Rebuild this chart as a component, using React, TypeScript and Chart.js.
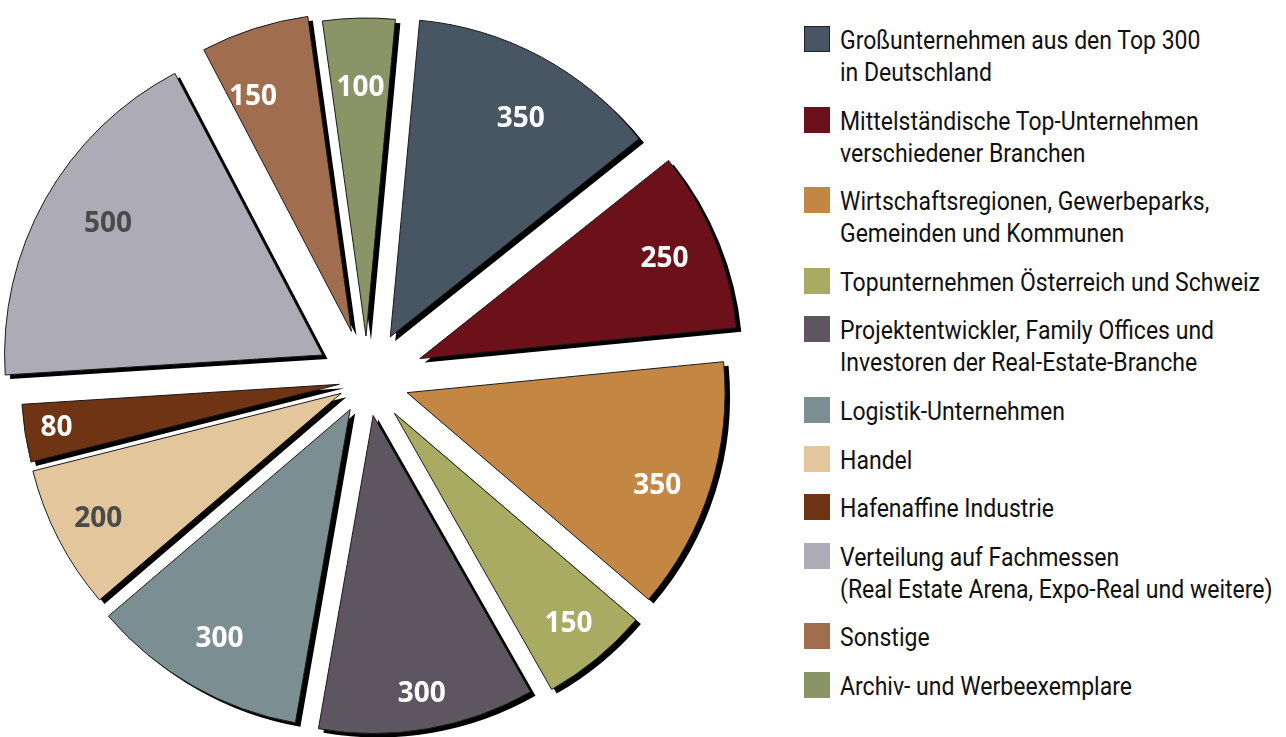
import React, { useEffect, useRef } from "react";
import { Chart, registerables } from "chart.js";

Chart.register(...registerables);

const categories: string[][] = [
  ["Großunternehmen aus den Top 300", "in Deutschland"],
  ["Mittelständische Top-Unternehmen", "verschiedener Branchen"],
  ["Wirtschaftsregionen, Gewerbeparks,", "Gemeinden und Kommunen"],
  ["Topunternehmen Österreich und Schweiz"],
  ["Projektentwickler, Family Offices und", "Investoren der Real-Estate-Branche"],
  ["Logistik-Unternehmen"],
  ["Handel"],
  ["Hafenaffine Industrie"],
  ["Verteilung auf Fachmessen", "(Real Estate Arena, Expo-Real und weitere)"],
  ["Sonstige"],
  ["Archiv- und Werbeexemplare"],
];

const values: number[] = [350, 250, 350, 150, 300, 300, 200, 80, 500, 150, 100];

const colors: string[] = [
  "#485663",
  "#6c1119",
  "#c38743",
  "#a9ab62",
  "#5d5560",
  "#7b8f93",
  "#e3c69c",
  "#6e3413",
  "#adabb5",
  "#a06d4e",
  "#8a9467",
];

const labelColors: string[] = [
  "#ffffff",
  "#ffffff",
  "#ffffff",
  "#ffffff",
  "#ffffff",
  "#ffffff",
  "#4a4a4a",
  "#ffffff",
  "#4a4a4a",
  "#ffffff",
  "#ffffff",
];

// style: explode distance (px) of each slice from the centre
const explode: number[] = [49, 57, 42, 43, 36, 34, 29, 28, 51, 51, 44];
// style: label distance from the slice tip, as a fraction of the radius
const labelRadius: number[] = [0.8, 0.83, 0.84, 0.86, 0.89, 0.83, 0.86, 0.9, 0.79, 0.8, 0.78];
// style: label angle tweak (degrees) relative to the slice bisector
const labelAngle: number[] = [2.5, 0, 3, 0, 0, 0, 0, 0, 2, -5, 0];

const RADIUS = 318;

const explodePlugin = {
  id: "explodeShadow",
  beforeDatasetDraw(chart: any, args: any) {
    const ctx = chart.ctx;
    args.meta.data.forEach((el: any, i: number) => {
      const mid = (el.startAngle + el.endAngle) / 2;
      el._ox = el.x;
      el._oy = el.y;
      el.x = el.x + Math.cos(mid) * explode[i];
      el.y = el.y + Math.sin(mid) * explode[i];
    });
    ctx.save();
    ctx.shadowColor = "#000000";
    ctx.shadowOffsetX = 5;
    ctx.shadowOffsetY = 4;
    ctx.shadowBlur = 0;
  },
  afterDatasetDraw(chart: any, args: any) {
    const ctx = chart.ctx;
    ctx.restore();
    // thin outlines, drawn without shadow
    ctx.save();
    ctx.strokeStyle = "#1a1a1a";
    ctx.lineWidth = 1;
    args.meta.data.forEach((el: any) => {
      ctx.beginPath();
      ctx.moveTo(el.x, el.y);
      ctx.arc(el.x, el.y, el.outerRadius, el.startAngle, el.endAngle);
      ctx.closePath();
      ctx.stroke();
    });
    ctx.restore();
    ctx.save();
    ctx.font = "bold 28px 'Open Sans', sans-serif";
    ctx.textAlign = "center";
    ctx.textBaseline = "middle";
    args.meta.data.forEach((el: any, i: number) => {
      const mid = (el.startAngle + el.endAngle) / 2 + (labelAngle[i] * Math.PI) / 180;
      const r = el.outerRadius * labelRadius[i];
      const x = el.x + Math.cos(mid) * r;
      const y = el.y + Math.sin(mid) * r;
      ctx.fillStyle = labelColors[i];
      ctx.fillText(String(values[i]), x, y);
    });
    ctx.restore();
    args.meta.data.forEach((el: any) => {
      el.x = el._ox;
      el.y = el._oy;
    });
  },
};

export default function App() {
  const ref = useRef<HTMLCanvasElement | null>(null);

  useEffect(() => {
    document.body.style.margin = "0";
    document.body.style.overflow = "hidden";
    if (!ref.current) return;
    const chart = new Chart(ref.current, {
      type: "pie",
      data: {
        labels: categories.map((c) => c.join(" ")),
        datasets: [
          {
            data: values,
            backgroundColor: colors,
            borderWidth: 0,
            radius: RADIUS,
            clip: false,
          } as any,
        ],
      },
      options: {
        animation: false,
        responsive: false,
        rotation: 5.3,
        layout: { padding: { left: 0, top: 0, right: 60, bottom: 0 } },
        plugins: {
          legend: { display: false },
          tooltip: { enabled: false },
          title: { display: false },
        },
      },
      plugins: [explodePlugin],
    });
    return () => chart.destroy();
  }, []);

  return (
    <div
      style={{
        position: "absolute",
        left: 0,
        top: 0,
        width: 1286,
        height: 737,
        overflow: "hidden",
        background: "#ffffff",
      }}
    >
      <canvas
        ref={ref}
        width={794}
        height={760}
        style={{ position: "absolute", left: 0, top: 0, width: 794, height: 760 }}
      />
      <div
        style={{
          position: "absolute",
          left: 804,
          top: 24,
          fontFamily: "Roboto, sans-serif",
          fontSize: 26,
          lineHeight: "32px",
          color: "#111111",
        }}
      >
        {categories.map((lines, i) => (
          <div
            key={i}
            style={{ display: "flex", alignItems: "flex-start", marginBottom: 16.6 }}
          >
            <div
              style={{
                width: 26,
                height: 26,
                marginTop: 2,
                flex: "0 0 26px",
                boxSizing: "border-box",
                background: colors[i],
                border: i === 0 ? "1px solid #222" : "none",
              }}
            />
            <div
              style={{
                marginLeft: 10,
                whiteSpace: "nowrap",
                transform: "scaleX(0.885)",
                transformOrigin: "left top",
              }}
            >
              {lines.map((l, j) => (
                <div key={j}>{l}</div>
              ))}
            </div>
          </div>
        ))}
      </div>
    </div>
  );
}
